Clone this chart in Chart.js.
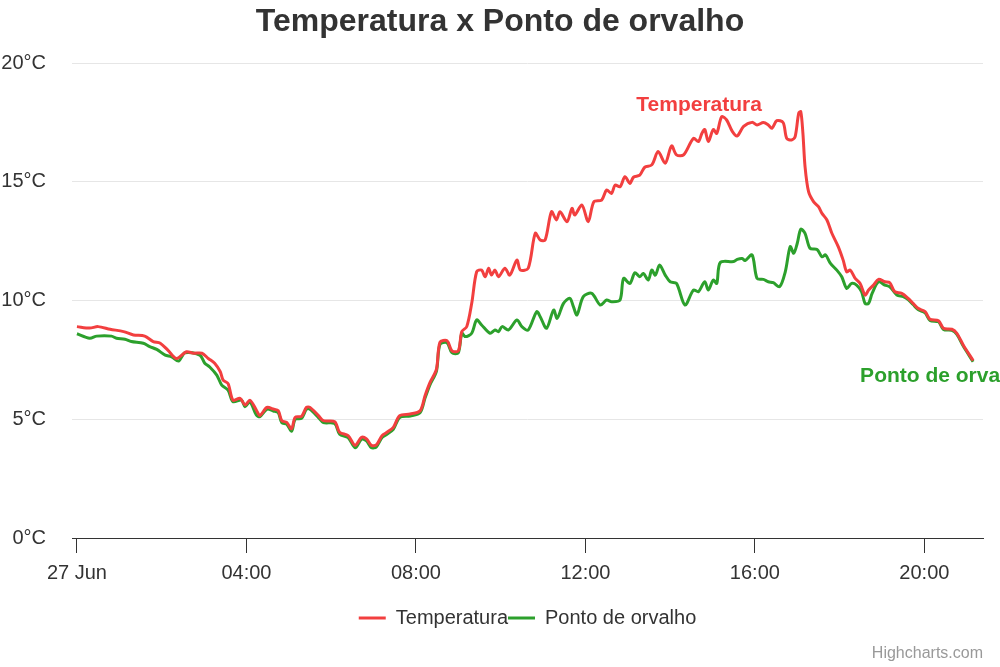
<!DOCTYPE html>
<html>
<head>
<meta charset="utf-8">
<script src="https://cdn.jsdelivr.net/npm/chart.js@4.4.1/dist/chart.umd.min.js"></script>
<style>
  html, body { margin: 0; padding: 0; background: #fff; }
  #wrap { width: 1000px; height: 667px; }
</style>
</head>
<body>
<div id="wrap"><canvas id="chart"></canvas></div>
<script>
// minutes after midnight, 27 Jun
const tempMinutes = [0,18,30,47,66,80,96,108,118,129,141,155,165,177,186,195,203,207,214,221,231,238,245,254,259,269,278,285,290,297,304,309,318,325,330,342,349,365,372,384,394,403,410,417,424,432,439,448,457,472,486,493,500,509,514,524,531,540,545,552,559,566,573,578,583,587,592,597,606,613,623,628,639,649,656,663,672,679,684,694,701,705,715,724,732,743,750,757,762,769,776,783,788,797,804,814,823,833,842,849,859,873,880,885,889,894,901,906,913,920,928,935,944,956,963,972,979,984,991,1000,1005,1012,1017,1022,1025,1028,1031,1036,1043,1050,1055,1062,1069,1078,1085,1090,1095,1102,1109,1116,1121,1128,1135,1144,1151,1158,1168,1177,1184,1191,1201,1208,1220,1227,1239,1246,1255,1269]
const tempValues = [8.9,8.84,8.9,8.79,8.69,8.55,8.5,8.27,8.2,7.9,7.56,7.84,7.78,7.78,7.56,7.36,7.0,6.65,6.5,5.8,5.88,5.6,5.8,5.39,5.16,5.5,5.43,5.36,4.94,4.87,4.6,5.08,5.12,5.5,5.5,5.15,4.94,4.9,4.45,4.31,3.9,4.24,4.17,3.9,3.92,4.31,4.45,4.66,5.15,5.22,5.36,6.0,6.55,7.1,8.24,8.31,7.88,7.88,8.69,8.9,9.88,11.21,11.28,11.0,11.36,11.07,11.28,11.0,11.36,11.07,11.7,11.28,11.36,12.83,12.55,12.55,13.74,13.39,13.74,13.32,13.88,13.6,14.02,13.32,14.16,14.23,14.65,14.51,14.86,14.79,15.21,14.93,15.19,15.28,15.61,15.71,16.27,15.78,16.51,16.13,16.13,16.83,16.69,17.04,17.2,16.69,17.2,17.04,17.74,17.6,17.12,16.93,17.33,17.5,17.39,17.49,17.39,17.25,17.57,17.49,16.83,16.76,16.9,17.88,17.95,17.04,15.64,14.58,14.16,13.95,13.67,13.39,12.83,12.27,11.7,11.21,11.28,10.93,10.72,10.23,10.44,10.65,10.89,10.79,10.75,10.37,10.3,10.09,9.88,9.67,9.53,9.21,9.15,8.83,8.79,8.62,8.13,7.47]

const dewMinutes = [0,18,28,49,56,68,77,94,103,113,125,134,144,153,174,181,188,198,205,214,221,233,238,245,254,259,269,278,285,290,297,304,309,318,325,330,342,349,365,372,384,394,403,410,417,424,432,439,448,457,472,486,493,500,509,514,524,531,540,545,550,559,566,573,585,592,597,602,611,623,630,639,651,656,665,675,680,689,698,703,708,717,729,741,750,757,769,774,783,790,797,802,809,814,819,825,833,840,849,861,873,880,889,894,901,906,911,930,935,942,946,956,963,972,979,986,995,1003,1010,1015,1020,1025,1031,1038,1048,1055,1060,1067,1076,1083,1090,1097,1104,1111,1116,1121,1126,1135,1144,1151,1161,1170,1177,1184,1191,1201,1208,1220,1227,1239,1246,1255,1269]
const dewValues = [8.6,8.41,8.5,8.5,8.41,8.37,8.27,8.2,8.06,7.94,7.7,7.63,7.45,7.8,7.7,7.36,7.2,6.86,6.44,6.23,5.74,5.81,5.53,5.74,5.18,5.11,5.42,5.35,5.28,4.86,4.79,4.5,5.0,5.04,5.42,5.42,5.07,4.86,4.82,4.37,4.23,3.8,4.16,4.09,3.8,3.84,4.23,4.37,4.58,5.07,5.14,5.28,5.9,6.46,7.02,8.15,8.22,7.8,7.8,8.62,8.48,8.62,9.18,8.97,8.62,8.76,8.69,8.9,8.76,9.18,8.9,8.76,9.53,9.32,8.83,9.6,9.25,9.88,10.09,9.74,9.39,10.16,10.3,9.81,10.02,9.95,10.02,10.93,10.72,11.17,11.0,11.14,10.86,11.28,11.07,11.49,11.07,10.79,10.72,9.81,10.44,10.37,10.79,10.44,10.86,10.72,11.6,11.64,11.73,11.77,11.68,11.92,10.93,10.89,10.79,10.75,10.58,11.21,12.27,11.99,12.41,13.0,12.83,12.2,12.15,11.84,11.92,11.56,11.28,11.0,10.51,10.72,10.65,10.37,9.88,9.88,10.3,10.79,10.65,10.58,10.23,10.16,10.04,9.83,9.62,9.48,9.16,9.1,8.78,8.74,8.57,8.08,7.42]

const xTicks = [0, 240, 480, 720, 960, 1200]
const xTickLabels = ['27 Jun', '04:00', '08:00', '12:00', '16:00', '20:00']
const yTicks = [0, 5, 10, 15, 20]

const seriesNames = ['Temperatura', 'Ponto de orvalho']
const seriesColors = ['#f23f3f', '#2ca02c']
// where each in-plot series name sits, in data units [minute, °C]
const seriesLabelAnchors = [[881, 18.23], [1109, 6.82]]

const font = "'Liberation Sans', Arial, Helvetica, sans-serif"
const textColor = '#333333'

const toPoints = (xs, ys) => xs.map((x, i) => ({x, y: ys[i]}))

const seriesLabels = {
  id: 'seriesLabels',
  afterDatasetsDraw(chart) {
    const {ctx, scales: {x, y}} = chart
    ctx.save()
    ctx.font = 'bold 21px ' + font
    ctx.textBaseline = 'middle'
    seriesNames.forEach((name, i) => {
      const [mx, my] = seriesLabelAnchors[i]
      ctx.fillStyle = seriesColors[i]
      ctx.textAlign = i === 0 ? 'center' : 'left'
      ctx.fillText(name, x.getPixelForValue(mx), y.getPixelForValue(my))
    })
    ctx.restore()
  },
}

const credits = {
  id: 'credits',
  afterDraw(chart) {
    const {ctx} = chart
    ctx.save()
    ctx.font = '16px ' + font
    ctx.fillStyle = '#999999'
    ctx.textAlign = 'right'
    ctx.textBaseline = 'alphabetic'
    ctx.fillText('Highcharts.com', chart.chartArea.right, 658)
    ctx.restore()
  },
}

const ctx = document.getElementById('chart').getContext('2d')
// eslint-disable-next-line no-unused-vars
const chart = new Chart(ctx, {
  type: 'line',
  data: {
    datasets: [
      {label: seriesNames[0], data: toPoints(tempMinutes, tempValues)},
      {label: seriesNames[1], data: toPoints(dewMinutes, dewValues)},
    ].map((ds, i) => ({
      ...ds,
      borderColor: seriesColors[i],
      backgroundColor: seriesColors[i],
      borderWidth: 3,
      pointRadius: 0,
      tension: 0.3,
      fill: false,
    })),
  },
  options: {
    responsive: true,
    maintainAspectRatio: false,
    animation: false,
    layout: {padding: {left: 0, right: 0, top: 0, bottom: 29}},
    plugins: {
      title: {
        display: true,
        text: 'Temperatura x Ponto de orvalho',
        color: textColor,
        font: {family: font, size: 32, weight: 'bold'},
        padding: {top: 3, bottom: 21.6},
      },
      legend: {
        position: 'bottom',
        fullSize: false,
        labels: {
          color: textColor,
          font: {family: font, size: 20},
          usePointStyle: true,
          pointStyle: 'line',
          pointStyleWidth: 27,
          padding: 0,
        },
      },
      tooltip: {enabled: false},
    },
    scales: {
      x: {
        type: 'linear',
        min: -7,
        max: 1283,
        afterBuildTicks: (scale) => { scale.ticks = xTicks.map(value => ({value})) },
        afterFit: (scale) => { scale.height = 70 },
        ticks: {
          color: textColor,
          font: {family: font, size: 20},
          padding: 8,
          maxRotation: 0,
          autoSkip: false,
          callback: (value) => xTickLabels[xTicks.indexOf(value)],
        },
        grid: {display: true, drawOnChartArea: false, drawTicks: true, tickLength: 15, color: '#333333', lineWidth: 1},
        border: {display: true, color: '#333333', width: 1},
      },
      y: {
        min: 0,
        max: 20,
        afterBuildTicks: (scale) => { scale.ticks = yTicks.map(value => ({value})) },
        afterFit: (scale) => { scale.width = 72 },
        ticks: {
          color: textColor,
          font: {family: font, size: 20},
          padding: 26,
          callback: (value) => value + '°C',
        },
        grid: {color: '#e6e6e6', lineWidth: 1, drawTicks: false},
        border: {display: false},
      },
      // empty right-hand margin, keeps the plot edge where the reference has it
      yRight: {
        position: 'right',
        afterFit: (scale) => { scale.width = 17 },
        ticks: {display: false},
        grid: {display: false},
        border: {display: false},
      },
    },
  },
  plugins: [seriesLabels, credits],
})
</script>
</body>
</html>
